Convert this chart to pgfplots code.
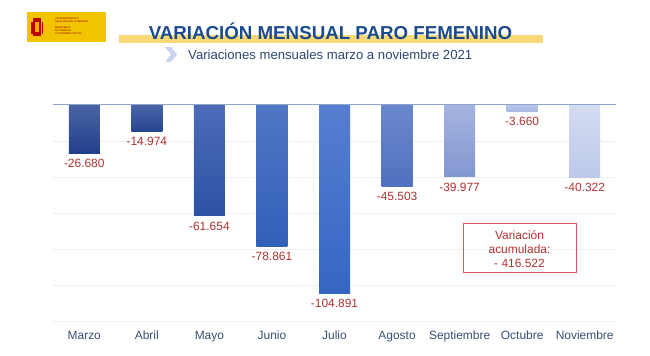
\documentclass[border=0pt]{standalone}
\usepackage{pgfplots}
\pgfplotsset{compat=1.18}
\usepackage{fontspec}
\setmainfont{Liberation Sans}
\definecolor{titleblue}{HTML}{1B4B8F}
\definecolor{subblue}{HTML}{2E4670}
\definecolor{bandyellow}{HTML}{F9D877}
\definecolor{chev}{HTML}{C9D5EE}
\definecolor{valred}{HTML}{B03232}
\definecolor{boxred}{HTML}{D9555A}
\definecolor{ticktext}{HTML}{3A4E72}
\definecolor{zeroline}{HTML}{8FA4C9}
\definecolor{gridc}{HTML}{EFEFEF}
\definecolor{logoy}{HTML}{F2C400}
\definecolor{b1t}{HTML}{4A64A6}\definecolor{b1b}{HTML}{22408A}
\definecolor{b2t}{HTML}{4A66A8}\definecolor{b2b}{HTML}{25448F}
\definecolor{b3t}{HTML}{4C6CB8}\definecolor{b3b}{HTML}{2C52A5}
\definecolor{b4t}{HTML}{5076C4}\definecolor{b4b}{HTML}{3260BA}
\definecolor{b5t}{HTML}{567ED0}\definecolor{b5b}{HTML}{3566C4}
\definecolor{b6t}{HTML}{6A88CC}\definecolor{b6b}{HTML}{5071BE}
\definecolor{b7t}{HTML}{A4B4E0}\definecolor{b7b}{HTML}{8397D0}
\definecolor{b8t}{HTML}{BAC6E8}\definecolor{b8b}{HTML}{A6B5E0}
\definecolor{b9t}{HTML}{D4DCF1}\definecolor{b9b}{HTML}{BCC8E8}
\begin{document}
\begin{tikzpicture}
\useasboundingbox (0,0) rectangle (650bp,356bp);
% logo
\fill[logoy] (27bp,314bp) rectangle (106bp,344bp);
\fill[red!75!black] (33bp,320bp) rectangle (41bp,338bp);
\fill[logoy!60!orange] (35bp,324bp) rectangle (39bp,334bp);
\fill[red!75!black] (31bp,322bp) rectangle (32.5bp,334bp);
\fill[red!75!black] (41.5bp,322bp) rectangle (43bp,334bp);
\node[anchor=west,inner sep=0pt,font=\fontsize{2.6}{3}\selectfont,text=red!60!black,align=left] at (55bp,336bp) {VICEPRESIDENCIA\\SEGUNDA DEL GOBIERNO};
\node[anchor=west,inner sep=0pt,font=\fontsize{2.6}{3}\selectfont,text=red!60!black,align=left] at (55bp,325bp) {MINISTERIO\\DE TRABAJO\\Y ECONOMÍA SOCIAL};
% title
\fill[bandyellow] (119bp,313bp) rectangle (543bp,321bp);
\node[anchor=base,inner sep=0pt,font=\bfseries\fontsize{18.8}{21}\selectfont,text=titleblue] at (330.5bp,316bp) {VARIACIÓN MENSUAL PARO FEMENINO};
\fill[chev] (165bp,309bp) -- (171bp,309bp) -- (177bp,301.5bp) -- (171bp,294bp) -- (165bp,294bp) -- (171bp,301.5bp) -- cycle;
\node[anchor=base west,inner sep=0pt,font=\fontsize{13.2}{15}\selectfont,text=subblue] at (188bp,296.5bp) {Variaciones mensuales marzo a noviembre 2021};
\begin{axis}[
  at={(53bp,35bp)}, anchor=south west,
  scale only axis, width=563bp, height=216bp,
  xmin=-0.5, xmax=8.5, ymin=-120000, ymax=0,
  ybar, bar width=31bp, bar shift=0pt,
  axis line style={draw=none},
  major tick length=0pt,
  scaled y ticks=false,
  xtick={0,...,8},
  xticklabels={Marzo,Abril,Mayo,Junio,Julio,Agosto,Septiembre,Octubre,Noviembre},
  xticklabel style={font=\fontsize{12}{14}\selectfont, text=ticktext, inner sep=0pt, yshift=-10bp},
  ytick={-120000,-100000,...,-20000}, yticklabels={},
  ymajorgrids, grid style={gridc, line width=0.8bp},
  clip=false,
  point meta=explicit symbolic,
  nodes near coords,
  every node near coord/.append style={font=\fontsize{12}{14}\selectfont, text=valred, anchor=north, inner sep=0pt, yshift=-5.5bp},
]
\addplot[draw=none, shading=axis, top color=b1t, bottom color=b1b] coordinates {(0,-26680) [-26.680]};
\addplot[draw=none, shading=axis, top color=b2t, bottom color=b2b] coordinates {(1,-14974) [-14.974]};
\addplot[draw=none, shading=axis, top color=b3t, bottom color=b3b] coordinates {(2,-61654) [-61.654]};
\addplot[draw=none, shading=axis, top color=b4t, bottom color=b4b] coordinates {(3,-78861) [-78.861]};
\addplot[draw=none, shading=axis, top color=b5t, bottom color=b5b] coordinates {(4,-104891) [-104.891]};
\addplot[draw=none, shading=axis, top color=b6t, bottom color=b6b] coordinates {(5,-45503) [-45.503]};
\addplot[draw=none, shading=axis, top color=b7t, bottom color=b7b] coordinates {(6,-39977) [-39.977]};
\addplot[draw=none, shading=axis, top color=b8t, bottom color=b8b] coordinates {(7,-3660) [-3.660]};
\addplot[draw=none, shading=axis, top color=b9t, bottom color=b9b] coordinates {(8,-40322) [-40.322]};
\draw[zeroline, line width=1bp] (axis cs:-0.5,0) -- (axis cs:8.5,0);
\end{axis}
% annotation box
\draw[boxred, line width=0.8bp] (463bp,84bp) rectangle (576bp,133bp);
\node[align=center, inner sep=0pt, text=valred, font=\fontsize{12}{14}\selectfont] at (519.5bp,107bp) {Variación\\acumulada:\\- 416.522};
\end{tikzpicture}
\end{document}
